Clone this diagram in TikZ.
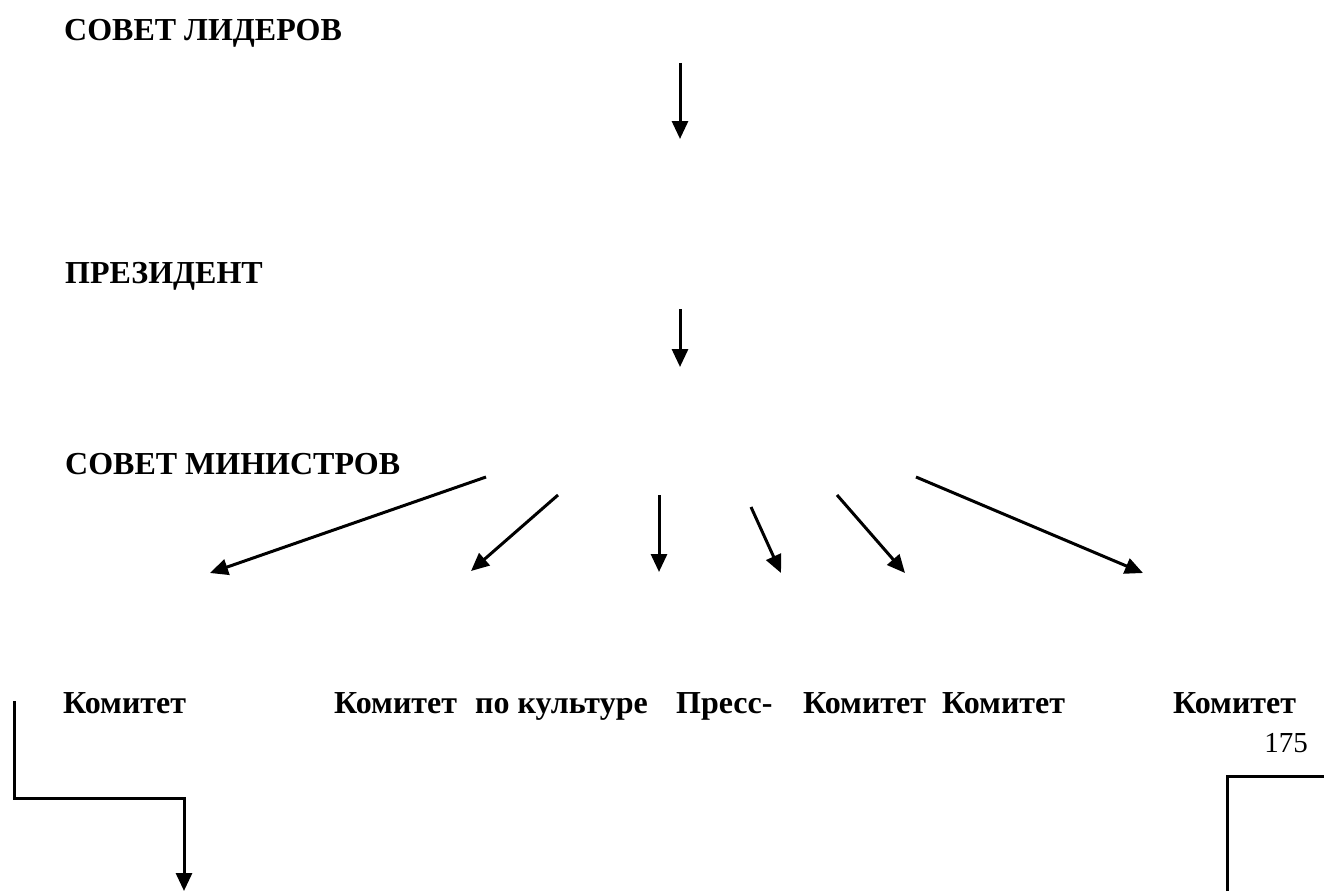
\documentclass[tikz,border=0pt]{standalone}
\usepackage{fontspec}
\setmainfont{Liberation Serif}
\usetikzlibrary{arrows.meta}
\begin{document}
\begin{tikzpicture}[x=1pt,y=-1pt,
  lbl/.style={font=\fontsize{32}{38}\selectfont\bfseries, anchor=base west, inner sep=0pt},
  pagenum/.style={font=\fontsize{29}{34}\selectfont, anchor=base east, inner sep=0pt},
  conn/.style={line width=3pt, -{Triangle[length=18pt,width=16pt]}},
  plainline/.style={line width=3pt}]
\useasboundingbox (0,0) rectangle (1324,891);
\fill[white] (0,0) rectangle (1324,891);
% labels
\node[lbl] (sl) at (64,41) {СОВЕТ ЛИДЕРОВ};
\node[lbl] (pr) at (65,283) {ПРЕЗИДЕНТ};
\node[lbl] (sm) at (65,474) {СОВЕТ МИНИСТРОВ};
\node[lbl] (k1) at (63,713) {Комитет};
\node[lbl] (k2) at (334,713) {Комитет};
\node[lbl] (pk) at (475,713) {по культуре};
\node[lbl] (ps) at (676,713) {Пресс-};
\node[lbl] (k4) at (803,713) {Комитет};
\node[lbl] (k5) at (942,713) {Комитет};
\node[lbl] (k6) at (1173,713) {Комитет};
\node[pagenum] (pn) at (1308,752) {175};
% arrow end points
\coordinate (a1s) at (680,63);  \coordinate (a1e) at (680,139);
\coordinate (a2s) at (680,309); \coordinate (a2e) at (680,367);
\coordinate (mas) at (486,477); \coordinate (mae) at (210,573);
\coordinate (mbs) at (558,495); \coordinate (mbe) at (471,571);
\coordinate (mcs) at (659,495); \coordinate (mce) at (659,572);
\coordinate (mds) at (751,507); \coordinate (mde) at (781,573);
\coordinate (mes) at (837,495); \coordinate (mee) at (905,573);
\coordinate (mfs) at (916,477); \coordinate (mfe) at (1143,573);
\coordinate (l1) at (14,701); \coordinate (l2) at (14,798);
\coordinate (l3) at (184,798); \coordinate (l4) at (184,891);
\coordinate (r1) at (1227,891); \coordinate (r2) at (1227,776);
\coordinate (r3) at (1324,776);
% arrows
\draw[conn] (a1s) -- (a1e);
\draw[conn] (a2s) -- (a2e);
\draw[conn] (mas) -- (mae);
\draw[conn] (mbs) -- (mbe);
\draw[conn] (mcs) -- (mce);
\draw[conn] (mds) -- (mde);
\draw[conn] (mes) -- (mee);
\draw[conn] (mfs) -- (mfe);
\draw[conn] (l1) -- (l2) -- (l3) -- (l4);
\draw[plainline] (r1) -- (r2) -- (r3);
\end{tikzpicture}
\end{document}
